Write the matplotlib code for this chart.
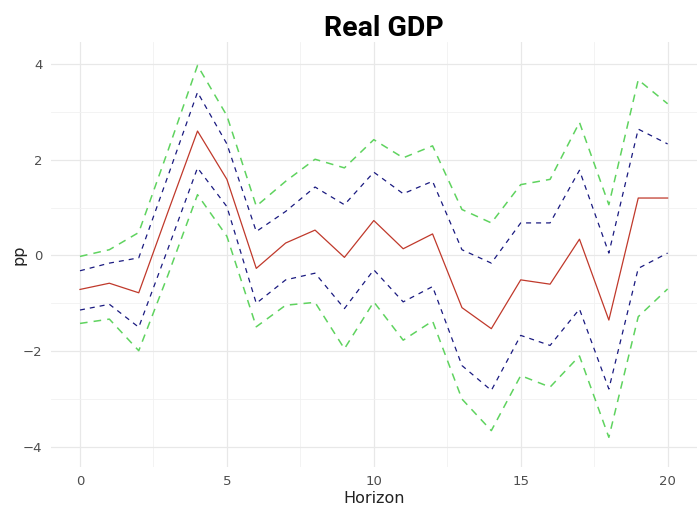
import numpy as np
import matplotlib
matplotlib.use("Agg")
import matplotlib.pyplot as plt

# impulse response: point estimate with two bands
horizon = np.arange(21)
irf = [-0.71, -0.58, -0.78, 0.92, 2.60, 1.59, -0.27, 0.26, 0.53, -0.04, 0.73,
       0.14, 0.45, -1.09, -1.53, -0.51, -0.60, 0.34, -1.35, 1.20, 1.20]
upper_68 = [-0.32, -0.16, -0.05, 1.67, 3.41, 2.33, 0.50, 0.92, 1.43, 1.06, 1.74,
            1.29, 1.55, 0.12, -0.16, 0.68, 0.68, 1.78, 0.05, 2.64, 2.33]
lower_68 = [-1.14, -1.02, -1.50, 0.15, 1.83, 1.02, -1.00, -0.51, -0.37, -1.11, -0.30,
            -0.97, -0.65, -2.30, -2.82, -1.67, -1.88, -1.12, -2.79, -0.27, 0.05]
upper_90 = [-0.02, 0.12, 0.48, 2.20, 3.97, 2.92, 1.03, 1.55, 2.01, 1.83, 2.42,
            2.04, 2.29, 0.96, 0.68, 1.48, 1.59, 2.78, 1.06, 3.67, 3.17]
lower_90 = [-1.42, -1.33, -1.99, -0.40, 1.27, 0.40, -1.49, -1.04, -0.98, -1.95, -0.97,
            -1.77, -1.37, -3.00, -3.66, -2.51, -2.75, -2.10, -3.80, -1.28, -0.70]

fig = plt.figure(figsize=(6.97, 5.11), dpi=100)
ax = fig.add_axes([0.0726, 0.0861, 0.9274, 0.8317])

green = "#5fd35f"
navy = "#1a1a80"
ax.plot(horizon, upper_90, color=green, lw=1.1, dashes=(5, 4))
ax.plot(horizon, lower_90, color=green, lw=1.1, dashes=(5, 4))
ax.plot(horizon, upper_68, color=navy, lw=0.9, dashes=(4, 4))
ax.plot(horizon, lower_68, color=navy, lw=0.9, dashes=(4, 4))
ax.plot(horizon, irf, color="#c0392b", lw=0.9)

ax.set_xlim(-1, 21)
ax.set_ylim(-4.42, 4.46)
ax.set_xticks([0, 5, 10, 15, 20])
ax.set_yticks([-4, -2, 0, 2, 4])
ax.set_xticks([2.5, 7.5, 12.5, 17.5], minor=True)
ax.set_yticks([-3, -1, 1, 3], minor=True)
ax.grid(which="major", color="#e8e8e8", lw=0.9)
ax.grid(which="minor", color="#f1f1f1", lw=0.6)
ax.set_axisbelow(True)
for s in ax.spines.values():
    s.set_visible(False)
ax.tick_params(which="both", length=0, labelsize=9.5, labelcolor="#4d4d4d", pad=6)

ax.set_xlabel("Horizon", fontsize=11.5, color="#222222", labelpad=2)
ax.set_ylabel("pp", fontsize=11.5, color="#222222", labelpad=-3)
fig.text(0.551, 0.945, "Real GDP", ha="center", va="center",
         fontsize=20.5, fontweight="bold", family="Roboto")

fig.savefig("out.png", dpi=100)
